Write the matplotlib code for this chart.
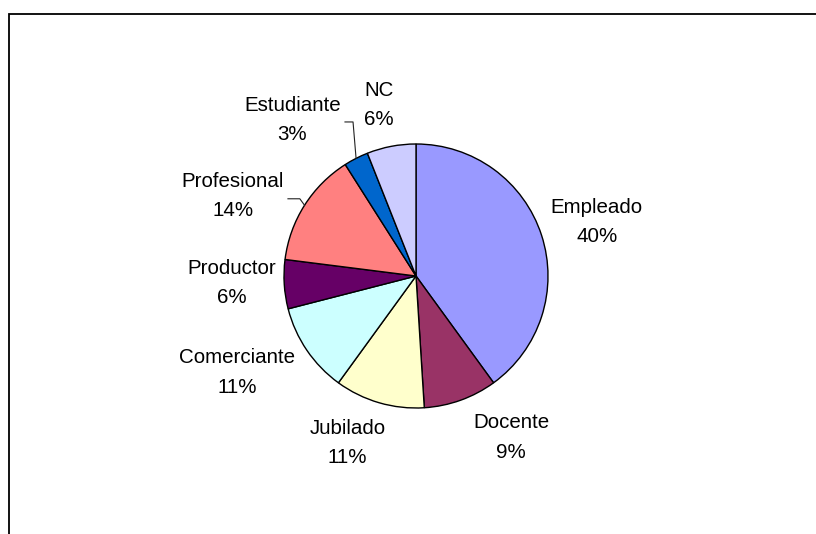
import numpy as np
import matplotlib.pyplot as plt
from matplotlib.patches import Rectangle

# --- datos del grafico ---
categorias = ['Empleado', 'Docente', 'Jubilado', 'Comerciante',
              'Productor', 'Profesional', 'Estudiante', 'NC']
porcentajes = [40, 9, 11, 11, 6, 14, 3, 6]
colores = ['#9999FF', '#993366', '#FFFFCC', '#CCFFFF',
           '#660066', '#FF8080', '#0066CC', '#CCCCFF']

# posicion de cada etiqueta (en radios, relativa al centro del pastel)
pos_etiquetas = {
    'Empleado': (1.37, 0.41),
    'Docente': (0.72, -1.225),
    'Jubilado': (-0.52, -1.265),
    'Comerciante': (-1.356, -0.73),
    'Productor': (-1.394, -0.053),
    'Profesional': (-1.386, 0.606),
    'Estudiante': (-0.936, 1.182),
    'NC': (-0.28, 1.295),
}
# lineas guia: (inicio horizontal, codo)
guias = {
    'Profesional': ((-0.97, 0.585), (-0.88, 0.585)),
    'Estudiante': ((-0.538, 1.167), (-0.477, 1.167)),
}

W, H = 816, 534
fig = plt.figure(figsize=(W / 100, H / 100), dpi=100)
ax = fig.add_axes([0, 0, 1, 1])

cx, cy, R = 416, H - 276, 132

ax.pie(porcentajes, colors=colores, startangle=90, counterclock=False,
       center=(cx, cy), radius=R, frame=True,
       wedgeprops={'edgecolor': 'black', 'linewidth': 1.0})
ax.set_xlim(0, W)
ax.set_ylim(0, H)
ax.set_aspect('equal')
ax.axis('off')

fuente = 'Liberation Sans'
acum = 0
for cat, p in zip(categorias, porcentajes):
    dx, dy = pos_etiquetas[cat]
    ax.text(cx + dx * R, cy + dy * R, f'{cat}\n{p}%', ha='center', va='center',
            fontsize=14.8, linespacing=1.7, family=fuente, color='black')
    if cat in guias:
        a = np.deg2rad(90 - (acum + p / 2) * 3.6)
        (x0, y0), (x1, y1) = guias[cat]
        xs = [cx + x0 * R, cx + x1 * R, cx + R * np.cos(a)]
        ys = [cy + y0 * R, cy + y1 * R, cy + R * np.sin(a)]
        ax.plot(xs, ys, color='#222222', lw=0.8)
    acum += p

# marco del area del grafico (solo se ven el borde superior e izquierdo)
fig.patches.append(Rectangle((9 / W, -0.1), 1.2, 1.1 - 14 / H,
                             transform=fig.transFigure, fill=False,
                             edgecolor='black', linewidth=1.3))

fig.savefig('out.png', dpi=100, facecolor='white')
